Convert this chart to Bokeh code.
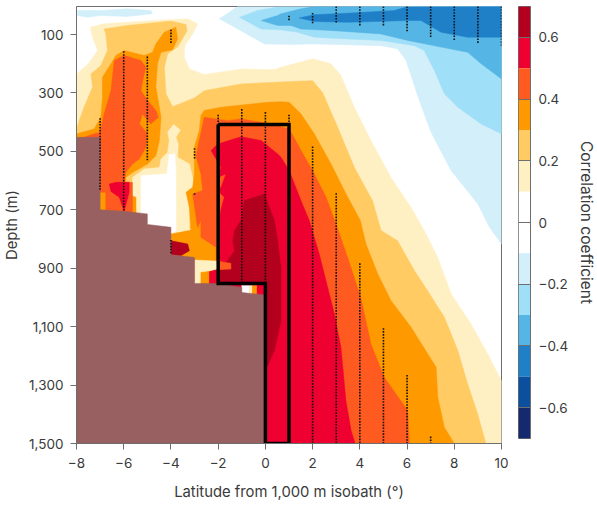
from bokeh.plotting import figure
from bokeh.layouts import row
from bokeh.models import Range1d, FixedTicker, LinearAxis
from bokeh.embed import file_html
from bokeh.resources import INLINE

FONT = "Inter"
TXT = "#3a3a3a"
GREY = "#6e6e6e"

# ---- colour bands
levels_low = [0.6, 0.5, 0.4, 0.3, 0.2, 0.1, -0.1, -0.2, -0.3, -0.4, -0.5, -0.6, -0.7]
level_colors = ["#b3001e", "#ee0030", "#ff5a1f", "#ff9900", "#ffcb62", "#fff0c4", "#ffffff",
                "#d2effa", "#a0dff8", "#55b5e5", "#1f80c8", "#0b4f9e", "#15296e"]
level_widths = [0.1, 0.1, 0.1, 0.1, 0.1, 0.1, 0.2, 0.1, 0.1, 0.1, 0.1, 0.1, 0.1]
C = {"p6": "#b3001e", "p5": "#ee0030", "p4": "#ff5a1f", "p3": "#ff9900", "p2": "#ffcb62", "p1": "#fff0c4",
     "z": "#ffffff", "n1": "#d2effa", "n2": "#a0dff8", "n3": "#55b5e5", "n4": "#1f80c8"}

# ---- correlation band outlines: latitude (deg), depth (m)
p1_lat = [-8, -7.5, -7.11, -7.32, -7.42, -6.83, -4.42, -3.29, -2.87, -3.08, -3.41, -3.43, -3.22, -2.59, -1.03, 0.38, 0.66, 2, 2.78, 3.2, 3.77, 4.47, 5.32, 6.17, 6.73, 7.3, 7.87, 8.71, 9.42, 10, 10, -8]
p1_dep = [235, 200, 155, 109, 75, 63, 50, 46, 63, 98, 138, 178, 218, 237, 218, 220, 212, 183, 200, 240, 349, 463, 589, 692, 771, 863, 988, 1091, 1194, 1285, 1500, 1500]

p2_lat = [-8, -7.89, -7.68, -7.32, -7.39, -6.97, -6.69, -6.76, -6.83, -5.84, -4, -3.36, -3.32, -3.72, -4.14, -4.28, -4.21, -3.93, -3.01, -2.59, -1.03, 1.09, 2, 2.42, 3.06, 3.77, 4.54, 4.9, 5.6, 6.31, 6.87, 7.58, 8.15, 8.57, 8.99, 9.34, -8]
p2_dep = [423, 395, 349, 280, 235, 206, 155, 98, 81, 69, 54, 66, 88, 143, 166, 212, 303, 347, 317, 292, 269, 261, 258, 298, 417, 555, 669, 771, 806, 908, 977, 1068, 1182, 1297, 1399, 1500, 1500]

gap_p1_lat = [-3.89, -3.6, -3.79, -3.69, -3.72, -3.22, -3.08, -2.94, -3.22, -3.22, -3.9, -5.63, -5.63, -5.13, -4.49, -4.42, -4.14, -4.07, -4.14]
gap_p1_dep = [408, 427, 452, 475, 520, 543, 589, 640, 640, 771, 783, 771, 589, 560, 555, 526, 503, 463, 434]

gap_z_lat = [-5.27, -4.17, -4.07, -3.83, -3.79, -3.79, -4, -5.27]
gap_z_dep = [583, 577, 511, 509, 577, 771, 783, 771]

p3_left_lat = [-8, -7.25, -6.97, -6.9, -6.9, -6.54, -6.33, -5.98, -5.13, -4.78, -4.64, -4.28, -3.79, -3.72, -3.93, -4.42, -4.57, -4.64, -4.49, -4.42, -4.49, -4.64, -4.99, -5.63, -5.91, -5.91, -5.48, -5.48, -7, -8]
p3_left_dep = [440, 423, 383, 315, 246, 200, 172, 155, 172, 161, 132, 92, 75, 115, 152, 161, 200, 280, 349, 383, 463, 515, 543, 572, 589, 646, 657, 714, 714, 714]

p3_right_lat = [-2.59, -2.73, -2.8, -3.01, -3.01, -3.08, -3.36, -3.22, -3.15, -3.22, -4, -4, 8, 7.58, 7.3, 7.23, 6.88, 6.17, 5.32, 4.76, 4.26, 4.02, 3.34, 2.78, 2.07, 1.51, 1.01, 0.66, 0.1, -1.88]
p3_right_dep = [360, 377, 429, 486, 577, 623, 640, 692, 771, 771, 783, 1500, 1500, 1445, 1342, 1239, 1194, 1102, 1011, 920, 817, 737, 634, 543, 440, 372, 332, 330, 332, 349]

p4_left_lat = [-8, -7.25, -7, -6.83, -6.54, -6.4, -5.98, -5.27, -5.06, -5.2, -5.27, -4.99, -4.64, -4.54, -4.85, -5.2, -5.34, -4.99, -5.06, -5.34, -5.63, -5.91, -5.98, -5.63, -5.63, -6.76, -6.76, -7, -8]
p4_left_dep = [460, 440, 435, 372, 292, 189, 172, 189, 212, 258, 292, 326, 360, 383, 406, 372, 406, 440, 486, 526, 543, 572, 606, 606, 714, 714, 640, 640, 640]

p4_right_lat = [-2.59, -1.6, -1.03, 0.1, 1.01, 1.51, 2, 2.57, 2.99, 3.48, 4.04, 4.47, 5.04, 6.03, 6.1, -2, -2.09, -2.09, -2.73, -2.73, -2.87, -3.08, -2.66, -2.73, -2.94, -2.8]
p4_right_dep = [383, 395, 389, 404, 423, 497, 566, 657, 749, 863, 1000, 1160, 1274, 1388, 1500, 1500, 851, 828, 794, 737, 760, 646, 634, 577, 515, 463]

p5_left_lat = [-6.61, -6.33, -5.77, -5.77, -5.98, -6.19, -6.54]
p5_left_dep = [612, 606, 606, 640, 705, 657, 637]

p5_right_lat = [-2.3, -2.02, -1.03, -0.18, 0.52, 0.66, 1.01, 1.51, 1.86, 2.28, 2.92, 3.2, 3.41, 3.63, 3.8, -2, -2, -2.02, -1.88, -1.74, -2.02, -1.88, -1.67, -2.02, -1.88]
p5_right_dep = [497, 475, 450, 463, 509, 520, 566, 669, 737, 851, 1057, 1171, 1354, 1456, 1500, 1500, 771, 771, 697, 657, 634, 623, 577, 589, 555]

p6_main_lat = [-0.89, -0.04, 0.38, 0.52, 0.66, 0.66, 0.38, 0, 0, -2.37, -2.37, -1.88, -1.6, -1.31, -1.38, -1.31, -1.03]
p6_main_dep = [669, 646, 737, 806, 897, 1080, 1182, 1251, 955, 955, 914, 897, 874, 840, 806, 771, 737]

p6_blob_lat = [-4, -3.29, -3.22, -3.58, -4]
p6_blob_dep = [806, 817, 840, 857, 854]

pocket_p1_lat = [-3, -1.95, -2, -2.52, -2.73, -2.73, -3]
pocket_p1_dep = [872, 876, 903, 911, 925, 954, 954]
pocket_p3_lat = [-2.73, -2.37, -2.37, -2.73]
pocket_p3_dep = [914, 912, 954, 954]
pocket_p5_lat = [-2.37, -2, -2, -2.37]
pocket_p5_dep = [912, 905, 954, 954]
pocket_p4_lat = [-2, -1.46, -1.46, -2]
pocket_p4_dep = [876, 883, 903, 905]

under_box_edges = [-1, -0.68, -0.55, -0.35, 0]
under_box_bands = ["z", "p1", "p3", "p5"]
under_box_top = 958
under_box_bot = 992

n1_small_lat = [-7.96, -6.97, -5.84, -4.85, -4.78, -5.84, -6.97, -7.53, -7.96]
n1_small_dep = [18, 18, 12, 18, 29, 38, 35, 41, 35]

n1_lat = [-1.17, -1.95, -1.17, -0.04, 1.09, 2.07, 4.9, 5.6, 5.96, 6.24, 6.52, 7.02, 7.87, 9, 9.49, 10, 10]
n1_dep = [4, 46, 81, 132, 134, 132, 138, 149, 189, 258, 326, 435, 566, 680, 760, 817, 4]

n2_lat = [-1.1, -0.33, 0.52, 10, 10, 9.14, 8.15, 7.58, 7.16, 6.73, 6.31, 4.9, 3.48, 2.07, 1.36, 0.66, -0.18]
n2_dep = [41, 18, 6, 4, 440, 406, 349, 303, 223, 155, 138, 120, 115, 109, 92, 84, 81]

n3_lat = [-0.18, 0.52, 0.66, 1.51, 2.07, 10, 10, 9.14, 8.57, 7.44, 6.03, 4.9, 2.78, 1.51, 1.08, 0.52]
n3_dep = [52, 35, 29, 12, 4, 4, 252, 200, 161, 143, 120, 98, 86, 81, 69, 69]

n4_lat = [1.43, 2.07, 3.48, 5.46, 5.96, 10, 10, 8.57, 7.44, 6.59, 6.03, 3.48, 2.07]
n4_dep = [43, 32, 27, 18, 6, 4, 109, 109, 92, 52, 52, 58, 55]

# ---- seafloor
floor_lat = [-8, -7, -7, -6, -5, -5, -4, -4, -3, -3, -2, -1, -1, -0.1, 0, 0, -8]
floor_dep = [452, 452, 700, 705, 714, 750, 760, 854, 863, 952, 952, 966, 983, 991, 991, 1500, 1500]

# ---- box
box_lat = [-2, 1, 1, 0, 0, -2, -2]
box_dep = [408, 408, 1500, 1500, 952, 952, 408]

# ---- significance stippling: latitude, top, bottom
dot_lat = [-7, -6, -5, -4, -4, -3, -3, -2, -1, 0, 1, 2, 3, 4, 5, 6, 7,
           1, 2, 3, 4, 5, 6, 7, 8, 9, 10]
dot_top = [389, 160, 178, 86, 806, 492, 646, 377, 358, 368, 377, 486, 646, 886, 1108, 1268, 1479,
           38, 29, 6, 6, 6, 6, 6, 6, 6, 6]
dot_bot = [634, 703, 532, 132, 854, 523, 655, 950, 948, 950, 1500, 1500, 1500, 1500, 1500, 1500, 1500,
           52, 63, 63, 73, 73, 92, 115, 123, 132, 143]

# ---- axes
x_ticks = [-8, -6, -4, -2, 0, 2, 4, 6, 8, 10]
x_labels = ["\u22128", "\u22126", "\u22124", "\u22122", "0", "2", "4", "6", "8", "10"]
y_ticks = [100, 300, 500, 700, 900, 1100, 1300, 1500]
y_labels = ["100", "300", "500", "700", "900", "1,100", "1,300", "1,500"]
cb_ticks = [-0.6, -0.4, -0.2, 0, 0.2, 0.4, 0.6]
cb_labels = ["\u22120.6", "\u22120.4", "\u22120.2", "0", "0.2", "0.4", "0.6"]

p = figure(width=500, height=491, frame_width=425, frame_height=437,
           x_range=Range1d(-8, 10), y_range=Range1d(1500, 4),
           min_border_left=68, min_border_right=7, min_border_top=0, min_border_bottom=54,
           toolbar_location=None, output_backend="svg", background_fill_color="#ffffff",
           margin=(6, 0, 0, 0))
p.grid.visible = False
p.outline_line_color = GREY

def fill(lat, dep, key):
    p.patch(lat, dep, fill_color=C[key], line_color=C[key], line_width=0.5)

for lat, dep, key in [
    (p1_lat, p1_dep, "p1"), (p2_lat, p2_dep, "p2"),
    (gap_p1_lat, gap_p1_dep, "p1"), (gap_z_lat, gap_z_dep, "z"),
    (p3_left_lat, p3_left_dep, "p3"), (p3_right_lat, p3_right_dep, "p3"),
    (p4_left_lat, p4_left_dep, "p4"), (p4_right_lat, p4_right_dep, "p4"),
    (p5_left_lat, p5_left_dep, "p5"), (p5_right_lat, p5_right_dep, "p5"),
    (p6_main_lat, p6_main_dep, "p6"), (p6_blob_lat, p6_blob_dep, "p6"),
    (pocket_p1_lat, pocket_p1_dep, "p1"), (pocket_p3_lat, pocket_p3_dep, "p3"),
    (pocket_p5_lat, pocket_p5_dep, "p5"), (pocket_p4_lat, pocket_p4_dep, "p4"),
    (n1_small_lat, n1_small_dep, "n1"), (n1_lat, n1_dep, "n1"),
    (n2_lat, n2_dep, "n2"), (n3_lat, n3_dep, "n3"), (n4_lat, n4_dep, "n4"),
]:
    fill(lat, dep, key)

for i, key in enumerate(under_box_bands):
    p.quad(left=under_box_edges[i], right=under_box_edges[i + 1], top=under_box_top, bottom=under_box_bot,
           fill_color=C[key], line_color=C[key], line_width=0.5)

p.patch(floor_lat, floor_dep, fill_color="#996061", line_color="#996061", line_width=0.5)

sx, sy = [], []
for la, t, b in zip(dot_lat, dot_top, dot_bot):
    d = t
    while d <= b:
        sx.append(la)
        sy.append(d)
        d += 10
p.scatter(sx, sy, marker="square", size=1.6, color="#111111", line_width=0)

p.line(box_lat, box_dep, line_color="#000000", line_width=3.5, line_join="miter")

p.xaxis.ticker = FixedTicker(ticks=x_ticks)
p.xaxis.major_label_overrides = dict(zip(x_ticks, x_labels))
p.yaxis.ticker = FixedTicker(ticks=y_ticks)
p.yaxis.major_label_overrides = dict(zip(y_ticks, y_labels))
p.xaxis.axis_label = "Latitude from 1,000 m isobath (\u00b0)"
p.yaxis.axis_label = "Depth (m)"
for ax in (p.xaxis[0], p.yaxis[0]):
    ax.minor_tick_line_color = None
    ax.major_tick_in = 0
    ax.major_tick_out = 6
    ax.axis_line_color = GREY
    ax.major_tick_line_color = GREY
    ax.major_label_text_font = FONT
    ax.major_label_text_font_size = "13.5px"
    ax.major_label_text_color = TXT
    ax.axis_label_text_font = FONT
    ax.axis_label_text_font_size = "14.8px"
    ax.axis_label_text_font_style = "normal"
    ax.axis_label_text_color = TXT
p.xaxis.axis_label_standoff = 12
p.xaxis.major_label_standoff = 8
p.yaxis.major_label_standoff = 7
p.yaxis.axis_label_standoff = 5

cb = figure(width=87, height=491, frame_width=12, frame_height=432,
            x_range=Range1d(0, 1), y_range=Range1d(-0.7, 0.7),
            min_border_left=10, min_border_right=65, min_border_top=0, min_border_bottom=59,
            toolbar_location=None, output_backend="svg", margin=(6, 0, 0, 0), y_axis_location=None)
cb.grid.visible = False
cb.outline_line_color = GREY
cb.xaxis.visible = False
cb.quad(left=0, right=1, bottom=levels_low,
        top=[a + w for a, w in zip(levels_low, level_widths)],
        fill_color=level_colors, line_color=None)
ax = LinearAxis(ticker=FixedTicker(ticks=cb_ticks), major_label_overrides=dict(zip(cb_ticks, cb_labels)))
ax.major_tick_in = 12
ax.major_tick_out = 0
ax.major_tick_line_color = GREY
ax.minor_tick_line_color = None
ax.axis_line_color = GREY
ax.major_label_text_font = FONT
ax.major_label_text_font_size = "13.5px"
ax.major_label_text_color = TXT
ax.major_label_standoff = 8
ax.axis_label = "Correlation coefficient"
ax.axis_label_text_font = FONT
ax.axis_label_text_font_size = "15.5px"
ax.axis_label_text_font_style = "normal"
ax.axis_label_text_color = TXT
ax.axis_label_standoff = 6
cb.add_layout(ax, "right")

layout = row(p, cb, spacing=0)
open("out.html", "w").write(file_html(layout, INLINE))
